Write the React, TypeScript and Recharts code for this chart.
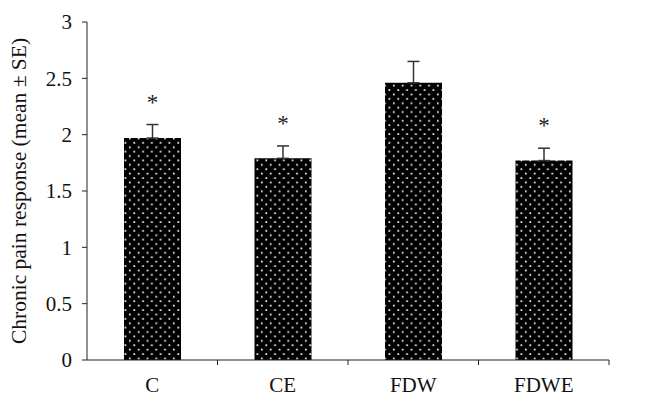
import React from 'react';
import { BarChart, Bar, XAxis, YAxis, ErrorBar, LabelList } from 'recharts';

const categories = ['C', 'CE', 'FDW', 'FDWE'];
const means = [1.97, 1.79, 2.46, 1.77];
const errors = [0.12, 0.11, 0.19, 0.11];
const significant = [true, true, false, true];
const yTicks = [0, 0.5, 1, 1.5, 2, 2.5, 3];

const data = categories.map((name, i) => ({
  name,
  mean: means[i],
  err: [0, errors[i]],
  se: errors[i],
  sig: significant[i] ? '*' : '',
}));

const W = 647;
const H = 404;
const margin = { top: 22, right: 38, bottom: 14, left: 0 };
const yAxisWidth = 87;
const plotWidth = W - margin.left - margin.right - yAxisWidth;
const band = plotWidth / categories.length;
const FONT = '"Liberation Serif", "DejaVu Serif", serif';

const XTick = (props: any) => {
  const { x, y, payload } = props;
  const axisY = y - 8;
  return (
    <g>
      <line x1={x + band / 2} y1={axisY} x2={x + band / 2} y2={axisY + 5} stroke="#222" strokeWidth={1} />
      <text x={x} y={axisY + 32} textAnchor="middle" fontFamily={FONT} fontSize={21} fill="#111">
        {payload.value}
      </text>
    </g>
  );
};

const Star = (props: any) => {
  const { x, y, width, height, value, index } = props;
  if (!value) return null;
  const pxPerUnit = height / means[index];
  const errTop = y - errors[index] * pxPerUnit;
  return (
    <text x={x + width / 2} y={errTop - 15} textAnchor="middle" fontFamily={FONT} fontSize={23} fill="#222">
      {value}
    </text>
  );
};

export default function App() {
  return (
    <div style={{ position: 'absolute', left: 0, top: 0, width: W, height: H, background: '#fff' }}>
      <BarChart width={W} height={H} data={data} margin={margin} barCategoryGap={0}>
        <defs>
          <pattern id="dots" patternUnits="userSpaceOnUse" width={8.8} height={8.8}>
            <rect x={0} y={0} width={8.8} height={8.8} fill="#000" />
            <rect x={1.4} y={1.2} width={1.7} height={1.7} fill="#fff" />
            <rect x={5.8} y={5.6} width={1.7} height={1.7} fill="#fff" />
          </pattern>
        </defs>
        <XAxis
          dataKey="name"
          axisLine={{ stroke: '#222', strokeWidth: 1 }}
          tickLine={false}
          tick={<XTick />}
          height={30}
          interval={0}
        />
        <YAxis
          width={yAxisWidth}
          domain={[0, 3]}
          ticks={yTicks}
          axisLine={{ stroke: '#222', strokeWidth: 1 }}
          tickLine={{ stroke: '#222', strokeWidth: 1 }}
          tickSize={5}
          tickMargin={10}
          tick={{ fontFamily: FONT, fontSize: 21, fill: '#111' }}
          label={{
            value: 'Chronic pain response (mean ± SE)',
            angle: -90,
            position: 'insideLeft',
            offset: 18,
            style: { textAnchor: 'middle', fontFamily: FONT, fontSize: 21.5, fill: '#111' },
          }}
        />
        <Bar dataKey="mean" fill="url(#dots)" barSize={57} isAnimationActive={false}>
          <ErrorBar dataKey="err" width={6} stroke="#333" strokeWidth={1.5} direction="y" />
          <LabelList dataKey="sig" content={<Star />} />
        </Bar>
      </BarChart>
    </div>
  );
}
